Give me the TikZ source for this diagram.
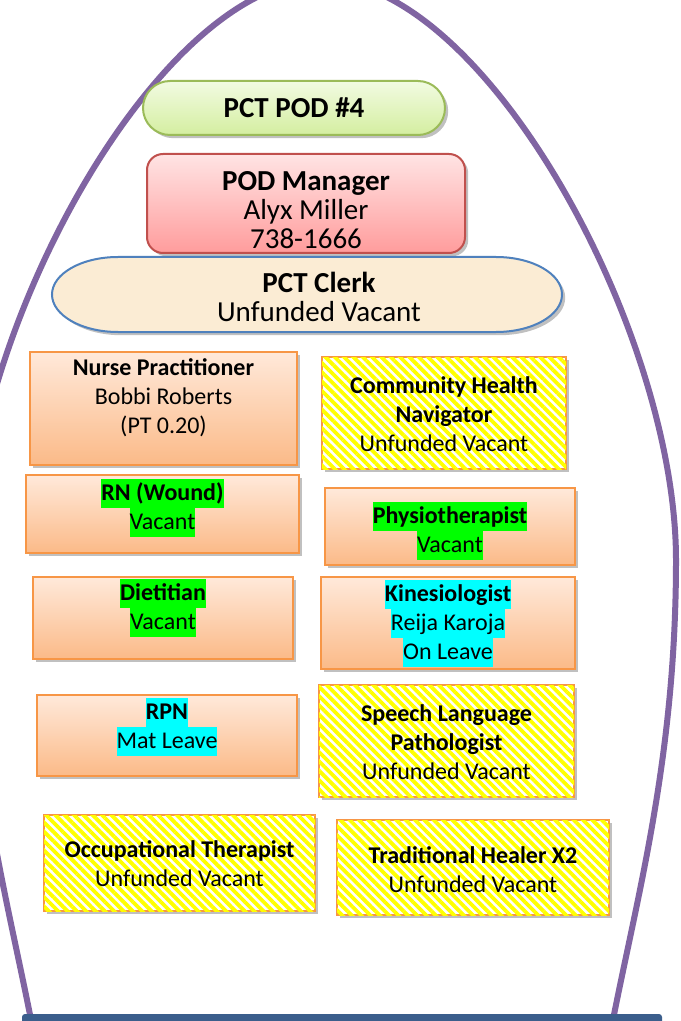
\documentclass[tikz,border=0pt]{standalone}
\usepackage{fontspec}
\setmainfont{Carlito}
\usetikzlibrary{shadows,patterns.meta,fit}
\definecolor{archc}{RGB}{128,100,162}
\definecolor{barc}{RGB}{59,94,140}
\definecolor{orb}{RGB}{247,150,70}
\definecolor{ortop}{RGB}{255,233,218}
\definecolor{orbot}{RGB}{251,186,136}
\definecolor{hlgreen}{RGB}{0,255,0}
\definecolor{hlcyan}{RGB}{0,255,255}
\definecolor{hatchy}{RGB}{255,255,0}
\definecolor{podb}{RGB}{155,187,89}
\definecolor{podtop}{RGB}{242,251,226}
\definecolor{podbot}{RGB}{212,238,160}
\definecolor{mgrb}{RGB}{192,80,77}
\definecolor{mgrtop}{RGB}{255,228,228}
\definecolor{mgrbot}{RGB}{255,156,156}
\definecolor{clkb}{RGB}{79,129,189}
\definecolor{clkf}{RGB}{251,236,212}
\newcommand\hlbox[2]{{\setlength{\fboxsep}{0pt}\colorbox{#1}{\rule[-3.7pt]{0pt}{14.5pt}#2}}}
\tikzset{
  shd/.style={drop shadow={shadow xshift=1.6pt,shadow yshift=-1.6pt,opacity=0.35,fill=black!70}},
  obox/.style={draw=orb,line width=1pt,top color=ortop,bottom color=orbot,shd,inner sep=0pt},
  hbox/.style={draw=orb,line width=1pt,fill=white,shd,inner sep=0pt,
    postaction={pattern={Lines[angle=-45,distance=3.3pt,line width=1.9pt]},pattern color=hatchy}},
  txt/.style={align=center,inner sep=0pt,font=\fontsize{12}{14.5}\selectfont},
  bigtxt/.style={align=center,inner sep=0pt,font=\fontsize{14.5}{14.5}\selectfont},
}
\begin{document}
\begin{tikzpicture}[x=0.5pt,y=-0.5pt]
\useasboundingbox (0,0) rectangle (680,1021);
\fill[white] (0,0) rectangle (680,1021);
\clip (0,0) rectangle (680,1021);
% arch
\draw[archc,line width=3pt] (33,1030) .. controls (8,900) and (-32,760) .. (-32,560)
  .. controls (-32,330) and (160,-20) .. (322,-20)
  .. controls (484,-20) and (676,330) .. (676,560)
  .. controls (676,760) and (636,900) .. (611,1030);
% bottom bar
\fill[barc,rounded corners=1.5pt] (22,1014) rectangle (662,1030);
% top boxes
\node[fit={(143,81) (445,135)},inner sep=0pt,rounded corners=13.5pt,draw=podb,line width=1pt,
  top color=podtop,bottom color=podbot,shd] (pod) {};
\node[bigtxt] (podt) at (pod.center) {\textbf{PCT POD \#4}};
\node[fit={(147,154) (465,253)},inner sep=0pt,rounded corners=8pt,draw=mgrb,line width=1pt,
  top color=mgrtop,bottom color=mgrbot,shd] (mgr) {};
\node[bigtxt] (mgrt) at (306,210) {\textbf{POD Manager}\\Alyx Miller\\738-1666};
\path[draw=clkb,line width=1pt,fill=clkf,shd] (118,257) -- (496,257)
  arc[start angle=-90,end angle=90,x radius=66,y radius=37.5] -- (118,332)
  arc[start angle=90,end angle=270,x radius=66,y radius=37.5] -- cycle;
\node[bigtxt] (clkt) at (319,297) {\textbf{PCT Clerk}\\Unfunded Vacant};
% left column
\node[obox,fit={(30,352) (297,465)}] (np) {};
\node[txt] (npt) at (163.5,398) {\textbf{Nurse Practitioner}\\Bobbi Roberts\\(PT 0.20)};
\node[obox,fit={(26,475) (299,553)}] (rn) {};
\node[txt] (rnt) at (162.5,507.5) {\hlbox{hlgreen}{\textbf{RN (Wound)}}\\\hlbox{hlgreen}{Vacant}};
\node[obox,fit={(33,577) (293,659)}] (diet) {};
\node[txt] (diett) at (163,608) {\hlbox{hlgreen}{\textbf{Dietitian}}\\\hlbox{hlgreen}{Vacant}};
\node[obox,fit={(37,695) (297,776)}] (rpn) {};
\node[txt] (rpnt) at (167,726.5) {\hlbox{hlcyan}{\textbf{RPN}}\\\hlbox{hlcyan}{Mat Leave}};
\node[hbox,fit={(44,815) (315,911)}] (ot) {};
\node[txt] (ott) at (179.5,864) {\textbf{Occupational Therapist}\\Unfunded Vacant};
% right column
\node[hbox,fit={(322,357) (566,469)}] (chn) {};
\node[txt] (chnt) at (444,414) {\textbf{Community Health}\\\textbf{Navigator}\\Unfunded Vacant};
\node[obox,fit={(325,488) (575,565)}] (phy) {};
\node[txt] (phyt) at (450,531) {\hlbox{hlgreen}{\textbf{Physiotherapist}}\\\hlbox{hlgreen}{Vacant}};
\node[obox,fit={(321,577) (575,669)}] (kin) {};
\node[txt] (kint) at (448,623) {\hlbox{hlcyan}{\textbf{Kinesiologist}}\\\hlbox{hlcyan}{Reija Karoja}\\\hlbox{hlcyan}{On Leave}};
\node[hbox,fit={(319,685) (574,797)}] (slp) {};
\node[txt] (slpt) at (446.5,742) {\textbf{Speech Language}\\\textbf{Pathologist}\\Unfunded Vacant};
\node[hbox,fit={(337,820) (609,915)}] (th) {};
\node[txt] (tht) at (473,869.5) {\textbf{Traditional Healer X2}\\Unfunded Vacant};
\end{tikzpicture}
\end{document}
